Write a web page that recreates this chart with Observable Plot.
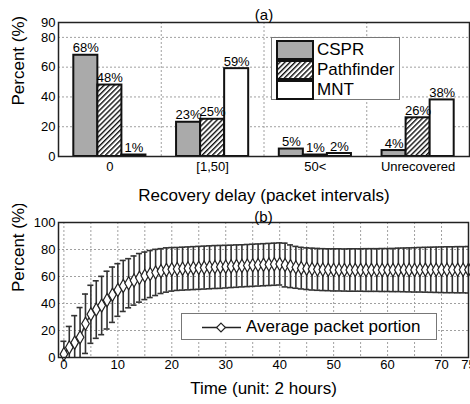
<!DOCTYPE html>
<html>
<head>
<meta charset="utf-8">
<script src="https://cdn.jsdelivr.net/npm/d3@7"></script>
<script src="https://cdn.jsdelivr.net/npm/@observablehq/plot@0.6"></script>
<style>
  html, body { margin: 0; padding: 0; background: white; }
  #fig { position: relative; width: 470px; height: 404px; background: white; overflow: hidden;
         font-family: "Liberation Sans", Arial, sans-serif; color: #000; }
  #fig > svg { position: absolute; left: 0; }
  .legend { position: absolute; background: white; border: 1px solid #777; box-sizing: border-box; }
  .legend .row { position: absolute; display: flex; align-items: center; }
  .legend .lbl { font-size: 17px; line-height: 20px; white-space: nowrap; }
</style>
</head>
<body>
<div id="fig"></div>
<script>
// Panel (a): share of packets by recovery delay
const categories = ["0", "[1,50]", "50<", "Unrecovered"];
const cspr = [68, 23, 5, 4];
const pathfinder = [48, 25, 1, 26];
const mnt = [1, 59, 2, 38];
const seriesNames = ["CSPR", "Pathfinder", "MNT"];

// Panel (b): average packet portion over time (mean and spread per step)
const timeSteps = d3.range(0, 76);
const avgPortion = [
  2.5, 7.5, 11, 15, 25, 32, 35.5, 38.5, 42.5, 46.5,
  50, 53, 55, 57, 59, 60.5, 61.8, 63, 64, 64.8,
  65.3, 65.6, 65.8, 66, 66.2, 66.4, 66.6, 66.8, 67, 67.1,
  67.3, 67.5, 67.7, 67.9, 68.1, 68.3, 68.5, 68.7, 68.9, 69.1,
  69.3, 68.5, 67.6, 66.8, 66.2, 65.8, 65.5, 65.3, 65.1, 65,
  64.9, 64.9, 64.8, 64.8, 64.8, 64.8, 64.8, 64.8, 64.8, 64.8,
  64.8, 64.8, 64.9, 64.9, 64.9, 64.9, 65, 65, 65, 65,
  65, 65, 65, 65, 65, 65
];
const portionSpread = [
  9.5, 15.5, 20, 22, 22, 21.5, 21.3, 21.6, 21.4, 20.5,
  19.5, 18.9, 18.2, 18.2, 18, 17.6, 17.4, 17.1, 16.6, 16.4,
  16.1, 15.9, 15.9, 15.9, 15.9, 15.9, 15.9, 15.9, 15.9, 15.9,
  15.8, 15.7, 15.7, 15.6, 15.6, 15.6, 15.6, 15.6, 15.6, 15.6,
  15.6, 16.2, 15.8, 15.5, 15.4, 15.4, 15.5, 15.5, 15.5, 15.5,
  15.6, 15.6, 15.6, 15.7, 15.7, 15.7, 15.8, 15.8, 15.8, 15.9,
  15.9, 16, 16.1, 16.2, 16.3, 16.4, 16.5, 16.6, 16.7, 16.8,
  16.9, 17, 17, 17.1, 17.1, 17.2
];

const FONT = "Liberation Sans, Arial, sans-serif";
const fills = {CSPR: "#aaaaaa", Pathfinder: "url(#hatch)", MNT: "white"};
const gridStyle = {stroke: "#a0a0a0", strokeOpacity: 1, strokeDasharray: "2,2", strokeWidth: 1};
const fig = document.getElementById("fig");

// ---------- panel (a) ----------
const seriesValues = {CSPR: cspr, Pathfinder: pathfinder, MNT: mnt};
const barW = 0.234; // bar width in category units
const barRows = categories.flatMap((c, i) =>
  seriesNames.map((s, j) => ({
    series: s, value: seriesValues[s][i],
    x1: i + (j - 1.5) * barW, x2: i + (j - 0.5) * barW
  })));

const chartA = Plot.plot({
  width: 470, height: 204,
  marginTop: 22, marginBottom: 48, marginLeft: 58, marginRight: 1,
  style: {fontFamily: FONT, background: "transparent", color: "#000"},
  x: {domain: [-0.5, 3.5]},
  y: {domain: [0, 90]},
  marks: [
    Plot.gridY({ticks: [20, 40, 60, 80], ...gridStyle}),
    Plot.gridX({ticks: [0.5, 1.5, 2.5], ...gridStyle}),
    ...seriesNames.map(s => Plot.rectY(barRows.filter(d => d.series === s), {
      x1: "x1", x2: "x2", y: "value", fill: fills[s], stroke: "#111", strokeWidth: 2
    })),
    Plot.text(barRows, {
      x: d => (d.x1 + d.x2) / 2, y: "value", text: d => d.value + "%",
      dy: -3, lineAnchor: "bottom", fontSize: 13, fill: "#000"
    }),
    Plot.frame({stroke: "#222", strokeWidth: 1.5}),
    Plot.axisY({ticks: [0, 20, 40, 60, 80, 90], tickSize: 0, tickPadding: 3, fontSize: 13, label: null}),
    Plot.axisX({ticks: [0, 1, 2, 3], tickFormat: i => categories[i], tickSize: 0, tickPadding: 5, fontSize: 13, label: null}),
    Plot.text(["(a)"], {frameAnchor: "top", dy: -3, lineAnchor: "bottom", fontSize: 15, fill: "#000"}),
    Plot.text(["Recovery delay (packet intervals)"], {frameAnchor: "bottom", dy: 44, lineAnchor: "bottom", fontSize: 17, fill: "#000"}),
    Plot.text(["Percent (%)"], {frameAnchor: "left", dx: -40, dy: 16, rotate: -90, lineAnchor: "middle", fontSize: 17, fill: "#000", ariaLabel: "ylabel-a"})
  ]
});
chartA.style.top = "0px";
fig.appendChild(chartA);

// hatch pattern used by the Pathfinder bars and swatch
d3.select(chartA).insert("defs", ":first-child").html(
  `<pattern id="hatch" patternUnits="userSpaceOnUse" width="3.6" height="3.6" patternTransform="rotate(45)">
     <rect width="3.6" height="3.6" fill="white"/>
     <rect width="1.4" height="3.6" fill="#111"/>
   </pattern>`);
d3.select(chartA).select('g[aria-label="ylabel-a"] text')
  .attr("textLength", 120).attr("lengthAdjust", "spacingAndGlyphs");

// ---------- panel (b) ----------
const timeRows = timeSteps.map((t, i) => ({
  t, mean: avgPortion[i],
  low: avgPortion[i] - portionSpread[i],
  high: avgPortion[i] + portionSpread[i]
}));
const barInk = {stroke: "#333", strokeWidth: 1.6};

const chartB = Plot.plot({
  width: 470, height: 200,
  marginTop: 18, marginBottom: 47, marginLeft: 58, marginRight: 2,
  style: {fontFamily: FONT, background: "transparent", color: "#000"},
  x: {domain: [-1, 75]},
  y: {domain: [0, 100]},
  marks: [
    Plot.gridX({ticks: d3.range(0, 75, 5), ...gridStyle}),
    Plot.gridY({ticks: [20, 40, 60, 80], ...gridStyle}),
    Plot.ruleX(timeRows, {x: "t", y1: "low", y2: "high", ...barInk, clip: true}),
    Plot.ruleY(timeRows, {y: "high", x1: "t", x2: "t", insetLeft: -3, insetRight: -3, ...barInk, clip: true}),
    Plot.ruleY(timeRows, {y: "low", x1: "t", x2: "t", insetLeft: -3, insetRight: -3, ...barInk, clip: true}),
    Plot.line(timeRows, {x: "t", y: "mean", stroke: "#333", strokeWidth: 1.5}),
    Plot.dot(timeRows, {x: "t", y: "mean", symbol: "diamond", r: 4, fill: "white", stroke: "#222", strokeWidth: 1.2}),
    Plot.frame({stroke: "#222", strokeWidth: 1.5}),
    Plot.axisY({ticks: [0, 20, 40, 60, 80, 100], tickSize: 0, tickPadding: 3, fontSize: 13, label: null}),
    Plot.axisX({ticks: [0, 10, 20, 30, 40, 50, 60, 70, 75], tickSize: 0, tickPadding: 2, fontSize: 13, label: null}),
    Plot.text(["(b)"], {frameAnchor: "top", dy: -1, lineAnchor: "bottom", fontSize: 15, fill: "#000"}),
    Plot.text(["Time (unit: 2 hours)"], {frameAnchor: "bottom", dy: 36, lineAnchor: "bottom", fontSize: 17, fill: "#000"}),
    Plot.text(["Percent (%)"], {frameAnchor: "left", dx: -40, dy: 2, rotate: -90, lineAnchor: "middle", fontSize: 17, fill: "#000", ariaLabel: "ylabel-b"})
  ]
});
chartB.style.top = "204px";
fig.appendChild(chartB);
d3.select(chartB).select('g[aria-label="ylabel-b"] text')
  .attr("textLength", 97).attr("lengthAdjust", "spacingAndGlyphs");

// ---------- legends ----------
const legA = d3.select(fig).append("div").attr("class", "legend")
  .style("left", "271px").style("top", "37px").style("width", "129px").style("height", "63px");
seriesNames.forEach((s, j) => {
  const row = legA.append("div").attr("class", "row")
    .style("left", "4px").style("top", `${2 + j * 20}px`);
  row.append("svg").attr("width", 38).attr("height", 20)
    .append("rect").attr("x", 1).attr("y", 1).attr("width", 36).attr("height", 18)
    .attr("fill", fills[s]).attr("stroke", "#111").attr("stroke-width", 2);
  row.append("span").attr("class", "lbl").style("margin-left", "3px").text(s);
});

const legB = d3.select(fig).append("div").attr("class", "legend")
  .style("left", "181px").style("top", "313px").style("width", "256px").style("height", "27px");
const rowB = legB.append("div").attr("class", "row").style("left", "0px").style("top", "2px");
const sw = rowB.append("svg").attr("width", 62).attr("height", 22);
sw.append("line").attr("x1", 20).attr("x2", 59).attr("y1", 11.5).attr("y2", 11.5)
  .attr("stroke", "#222").attr("stroke-width", 1.5);
sw.append("path").attr("d", d3.symbol(d3.symbolDiamond2, 50)())
  .attr("transform", "translate(39,11.5)").attr("fill", "white").attr("stroke", "#222").attr("stroke-width", 1.2);
rowB.append("span").attr("class", "lbl").style("margin-left", "2px").text("Average packet portion");
</script>
</body>
</html>
